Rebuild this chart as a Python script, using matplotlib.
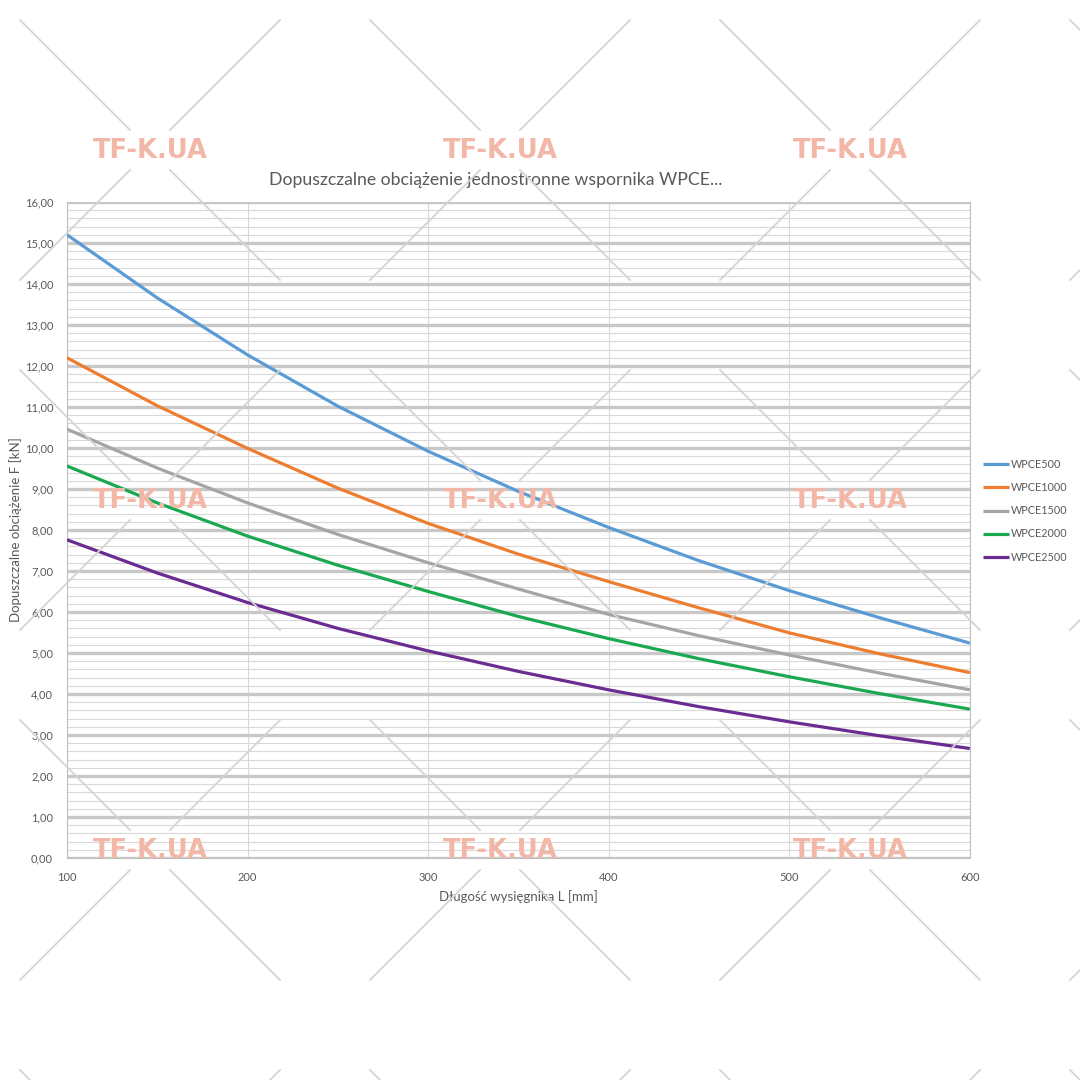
import matplotlib.pyplot as plt
from matplotlib.lines import Line2D
from matplotlib.ticker import FuncFormatter, MultipleLocator

# outreach length L [mm]
length = [100, 150, 200, 250, 300, 350, 400, 450, 500, 550, 600]

# permissible load F [kN]
wpce500 = [15.20, 13.66, 12.27, 11.02, 9.92, 8.94, 8.06, 7.25, 6.52, 5.86, 5.24]
wpce1000 = [12.20, 11.03, 9.99, 9.02, 8.16, 7.41, 6.74, 6.10, 5.49, 4.98, 4.52]
wpce1500 = [10.46, 9.51, 8.66, 7.89, 7.20, 6.56, 5.94, 5.42, 4.95, 4.51, 4.10]
wpce2000 = [9.56, 8.66, 7.85, 7.14, 6.50, 5.89, 5.35, 4.86, 4.42, 4.01, 3.63]
wpce2500 = [7.76, 6.95, 6.23, 5.60, 5.05, 4.55, 4.10, 3.69, 3.32, 2.98, 2.67]

series = [
    ("WPCE500", wpce500, "#5b9bd5"),
    ("WPCE1000", wpce1000, "#ed7d31"),
    ("WPCE1500", wpce1500, "#a5a5a5"),
    ("WPCE2000", wpce2000, "#1aa850"),
    ("WPCE2500", wpce2500, "#6a2c91"),
]

plt.rcParams["font.family"] = ["Lato", "DejaVu Sans"]
TEXT = "#595959"

fig = plt.figure(figsize=(10.8, 10.8), dpi=100)
ax = fig.add_axes([0.062, 0.2056, 0.836, 0.6074])

for name, values, color in series:
    ax.plot(length, values, color=color, lw=2.3, label=name, zorder=3,
            solid_capstyle="butt", solid_joinstyle="round")

ax.set_xlim(100, 600)
ax.set_ylim(0, 16)
ax.xaxis.set_major_locator(MultipleLocator(100))
ax.yaxis.set_major_locator(MultipleLocator(1))
ax.yaxis.set_minor_locator(MultipleLocator(0.2))
ax.yaxis.set_major_formatter(FuncFormatter(lambda v, _: f"{v:.2f}".replace(".", ",")))

ax.grid(axis="y", which="major", color="#c8c8c8", lw=2.4, zorder=1)
ax.grid(axis="y", which="minor", color="#d9d9d9", lw=0.8, zorder=1)
ax.grid(axis="x", which="major", color="#d9d9d9", lw=0.8, zorder=1)
ax.set_axisbelow(True)

ax.spines["top"].set_visible(False)
for side in ["left", "bottom", "right"]:
    ax.spines[side].set_color("#bfbfbf")
    ax.spines[side].set_linewidth(0.8)

ax.tick_params(which="both", length=0, colors=TEXT, labelsize=8)
ax.tick_params(axis="x", pad=10)
ax.tick_params(axis="y", pad=10)

ax.set_xlabel("Długość wysięgnika L [mm]", fontsize=9.5, color=TEXT, labelpad=5)
ax.set_ylabel("Dopuszczalne obciążenie F [kN]", fontsize=9.5, color=TEXT, labelpad=2)

fig.text(0.459, 0.833, "Dopuszczalne obciążenie jednostronne wspornika WPCE...",
         ha="center", va="center", fontsize=12.7, color=TEXT)

ax.legend(loc="center left", bbox_to_anchor=(0.9015, 0.527), bbox_transform=fig.transFigure,
          frameon=False, fontsize=7.8, labelcolor=TEXT, handlelength=2.4,
          handletextpad=0.1, labelspacing=1.12)

# watermark: crossed lines with the shop name, tiled every 350 px
W = 1080.0
for cx in [150, 500, 850, 1200]:
    for cy in [150, 500, 850, 1200]:
        for dx, dy in [(1, 1), (1, -1), (-1, 1), (-1, -1)]:
            x0, y0 = cx + 20 * dx, cy + 20 * dy
            x1, y1 = cx + 130 * dx, cy + 130 * dy
            fig.add_artist(Line2D([x0 / W, x1 / W], [1 - y0 / W, 1 - y1 / W],
                                  color="#d4d4d4", lw=1.3, zorder=10))
        if cx < 1000 and cy < 1000:
            fig.text(cx / W, 1 - (cy + 1) / W, "TF-K.UA", ha="center", va="center",
                     fontsize=18.5, fontweight="bold", color="#f2b7a6",
                     family="DejaVu Sans", zorder=11)

fig.savefig("out.png", dpi=100)
